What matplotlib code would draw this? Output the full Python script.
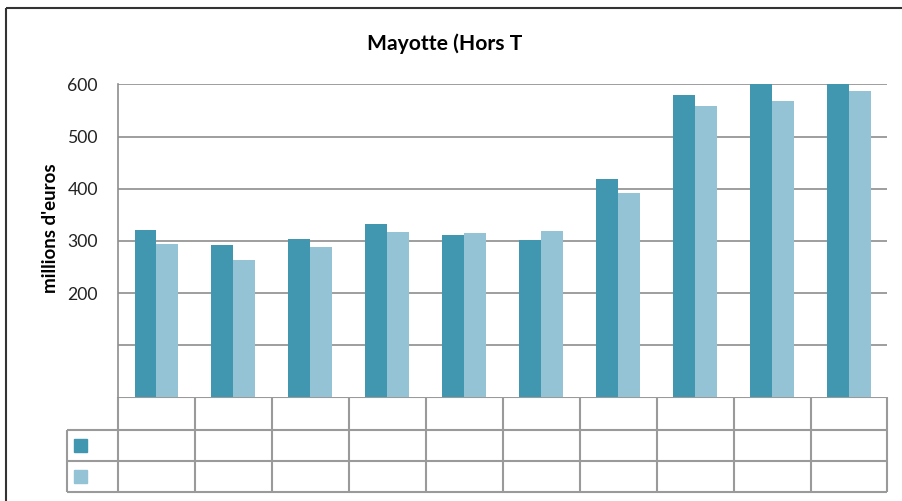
import numpy as np
import matplotlib
matplotlib.use("Agg")
import matplotlib.pyplot as plt
from matplotlib.patches import Rectangle

plt.rcParams['font.family'] = ['Lato', 'DejaVu Sans']

# valeurs (millions d'euros)
categories = ['', '', '', '', '', '', '', '', '', '']
serie1 = [321, 292, 304, 333, 312, 301, 418, 580, 600, 600]
serie2 = [295, 263, 289, 318, 316, 319, 392, 559, 568, 588]
yticks = [100, 200, 300, 400, 500, 600]
ytick_labels = ['', '200', '300', '400', '500', '600']

dark = '#4297b0'
light = '#93c3d5'
gridc = '#8e8e8e'

W, H = 903, 501
fig = plt.figure(figsize=(W / 100, H / 100), dpi=100)

# zone de tracé en pixels
x0, x1 = 118, 887.5
ytop, ybot = 84.5, 397.3

ax = fig.add_axes([x0 / W, 1 - ybot / H, (x1 - x0) / W, (ybot - ytop) / H])
n = len(categories)
x = np.arange(n)
bw = 0.285
ax.bar(x - bw / 2, serie1, bw, color=dark, zorder=3)
ax.bar(x + bw / 2, serie2, bw, color=light, zorder=3)
ax.set_xlim(-0.5, n - 0.5)
ax.set_ylim(0, 600)
ax.set_yticks(yticks)
ax.set_yticklabels(ytick_labels, fontsize=12.7, color='#222222')
ax.tick_params(axis='y', length=0, pad=14.4)
ax.set_xticks([])
ax.yaxis.grid(True, color=gridc, lw=1.2, zorder=0)
for s in ['top', 'right', 'bottom']:
    ax.spines[s].set_visible(False)
ax.spines['left'].set_color(gridc)
ax.spines['left'].set_linewidth(1.2)

# titre (tronqué) et titre d'axe
fig.text(367 / W, 1 - 50 / H, 'Mayotte (Hors T', fontsize=15.2,
         fontweight='bold', ha='left', va='baseline')
fig.text(51 / W, 1 - 228 / H, "millions d'euros", fontsize=13.5,
         fontweight='bold', rotation=90, ha='center', va='center')

# tableau de données sous le graphique (en pixels)
tab = fig.add_axes([0, 0, 1, 1], zorder=-1)
tab.set_xlim(0, W)
tab.set_ylim(H, 0)
tab.axis('off')
rows = [ybot, 430, 461, 492.3]
xleft = 67
edges = np.linspace(x0, x1, n + 1)
lc = '#9a9a9a'
tab.hlines(rows[0], x0, x1, color=lc, lw=1.5)
tab.hlines(rows[1:], xleft, x1, color=lc, lw=1.5)
tab.vlines(edges, rows[0], rows[-1], color=lc, lw=1.5)
tab.vlines(xleft, rows[1], rows[-1], color=lc, lw=1.5)

# clés de légende
for c, yr in zip([dark, light], [rows[1], rows[2]]):
    mid = (yr + yr + 31) / 2
    tab.add_patch(Rectangle((74, mid - 6.5), 13, 13, color=c))

# cadre extérieur
tab.hlines(8, 6, W, color='#333333', lw=1.5)
tab.vlines(6, 8, H, color='#333333', lw=1.5)

fig.savefig('out.png', dpi=100)
